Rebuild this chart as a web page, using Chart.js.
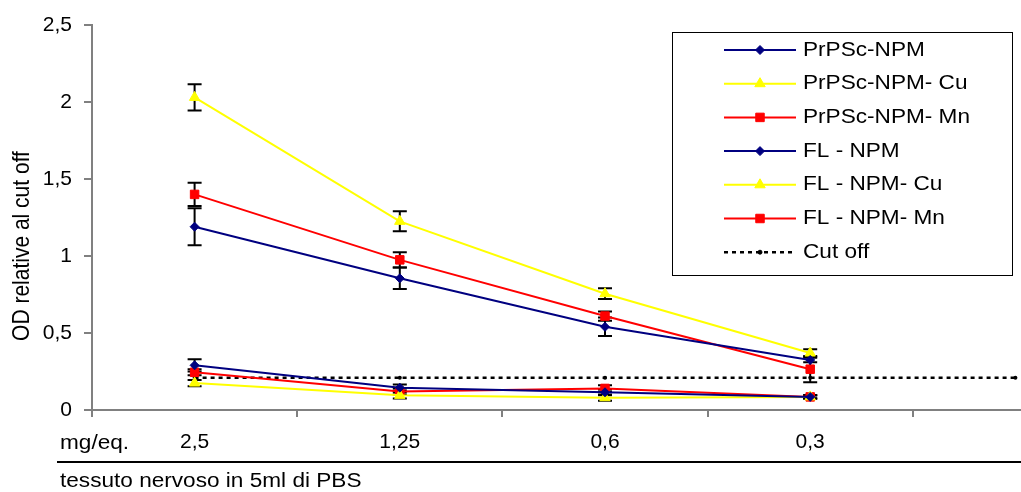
<!DOCTYPE html>
<html>
<head>
<meta charset="utf-8">
<script src="https://cdn.jsdelivr.net/npm/chart.js@4.4.1/dist/chart.umd.min.js"></script>
<style>
  html, body { margin: 0; padding: 0; background: #fff; overflow: hidden; }
  #wrap { width: 1021px; height: 492px; overflow: hidden; }
</style>
</head>
<body>
<div id="wrap"><canvas id="chart" width="1125" height="492"></canvas></div>
<script>
// dosi (mg/eq.) - l'ultima categoria resta vuota, serve solo per la linea di cut off
const doses = ['2,5', '1,25', '0,6', '0,3', ''];
const yTicks = [0, 0.5, 1, 1.5, 2, 2.5];

const prpscNpm = [1.19, 0.855, 0.54, 0.325];
const prpscNpmErr = [0.12, 0.07, 0.06, 0.015];
const prpscNpmCu = [2.03, 1.225, 0.755, 0.37];
const prpscNpmCuErr = [0.085, 0.065, 0.035, 0.025];
const prpscNpmMn = [1.40, 0.975, 0.61, 0.265];
const prpscNpmMnErr = [0.075, 0.05, 0.03, 0.085];

const flNpm = [0.29, 0.145, 0.115, 0.085];
const flNpmErr = [0.04, 0.02, 0.02, 0.01];
const flNpmCu = [0.175, 0.095, 0.08, 0.085];
const flNpmCuErr = [0.02, 0.02, 0.02, 0.01];
const flNpmMn = [0.245, 0.12, 0.14, 0.085];
const flNpmMnErr = [0.02, 0.02, 0.02, 0.01];

const cutOff = [0.21, 0.21, 0.21, 0.21, 0.21];

const NAVY = '#000080';
const YELLOW = '#FFFF00';
const RED = '#FF0000';
const FONT = "'Liberation Sans', Arial, sans-serif";
const STRETCH = 1.13;

function serie(label, data, errors, color, pointStyle, radius) {
    return {
        label: label,
        data: data,
        errors: errors,
        borderColor: color,
        backgroundColor: color,
        pointBackgroundColor: color,
        pointBorderColor: color,
        pointStyle: pointStyle,
        pointRadius: radius,
        pointBorderWidth: 1,
        borderWidth: 2,
        tension: 0
    };
}

// barre d'errore disegnate sotto le linee
const errorBars = {
    id: 'errorBars',
    beforeDatasetsDraw(chart) {
        const { ctx, scales: { x, y } } = chart;
        ctx.save();
        ctx.strokeStyle = '#000';
        ctx.lineWidth = 2;
        chart.data.datasets.forEach(ds => {
            if (!ds.errors) return;
            ds.data.forEach((v, j) => {
                const e = ds.errors[j];
                const px = x.getPixelForValue(j);
                const top = y.getPixelForValue(v + e);
                const bot = y.getPixelForValue(v - e);
                ctx.beginPath();
                ctx.moveTo(px, top); ctx.lineTo(px, bot);
                ctx.moveTo(px - 7, top); ctx.lineTo(px + 7, top);
                ctx.moveTo(px - 7, bot); ctx.lineTo(px + 7, bot);
                ctx.stroke();
            });
        });
        ctx.restore();
    }
};

function stretchedText(ctx, text, x, y) {
    ctx.save();
    ctx.translate(x, y);
    ctx.scale(STRETCH, 1);
    ctx.fillText(text, 0, 0);
    ctx.restore();
}

// titolo asse y, riga sotto l'asse x e legenda in riquadro
const decorations = {
    id: 'decorations',
    afterDraw(chart) {
        const ctx = chart.ctx;
        ctx.save();
        ctx.fillStyle = '#000';
        ctx.textBaseline = 'middle';
        ctx.textAlign = 'left';

        // titolo asse y
        ctx.save();
        ctx.translate(22, 246);
        ctx.rotate(-Math.PI / 2);
        ctx.font = '21px ' + FONT;
        ctx.textAlign = 'center';
        ctx.scale(1, STRETCH);
        ctx.fillText('OD relative al cut off', 0, 0);
        ctx.restore();

        ctx.font = '20px ' + FONT;
        stretchedText(ctx, 'mg/eq.', 60, 443);
        stretchedText(ctx, 'tessuto nervoso in 5ml di PBS', 60, 481);

        ctx.strokeStyle = '#000';
        ctx.lineWidth = 2;
        ctx.beginPath();
        ctx.moveTo(57, 462);
        ctx.lineTo(chart.width, 462);
        ctx.stroke();

        // legenda
        const box = { left: 672, top: 32, right: 1012, bottom: 275 };
        ctx.fillStyle = '#fff';
        ctx.fillRect(box.left, box.top, box.right - box.left, box.bottom - box.top);
        ctx.lineWidth = 1;
        ctx.strokeStyle = '#000';
        ctx.strokeRect(box.left + 0.5, box.top + 0.5, box.right - box.left, box.bottom - box.top);

        chart.data.datasets.forEach((ds, i) => {
            const rowY = 50 + i * 33.7;
            ctx.save();
            ctx.strokeStyle = ds.borderColor;
            ctx.lineWidth = ds.borderWidth;
            ctx.setLineDash(ds.borderDash || []);
            ctx.beginPath();
            ctx.moveTo(724, rowY);
            ctx.lineTo(796, rowY);
            ctx.stroke();
            ctx.setLineDash([]);
            ctx.fillStyle = ds.pointBackgroundColor;
            ctx.strokeStyle = ds.pointBorderColor;
            ctx.lineWidth = 1;
            Chart.helpers.drawPoint(ctx, {
                pointStyle: ds.pointStyle,
                radius: ds.pointRadius,
                rotation: 0,
                borderWidth: 1
            }, 760, rowY);
            ctx.restore();
            ctx.fillStyle = '#000';
            ctx.font = '20px ' + FONT;
            stretchedText(ctx, ds.label, 803, rowY);
        });
        ctx.restore();
    }
};

const cutOffSet = {
    label: 'Cut off',
    data: cutOff,
    borderColor: '#000',
    backgroundColor: '#000',
    pointBackgroundColor: '#000',
    pointBorderColor: '#000',
    pointStyle: 'circle',
    pointRadius: 2,
    pointBorderWidth: 0,
    borderWidth: 2.5,
    borderDash: [4, 4]
};

new Chart(document.getElementById('chart'), {
    type: 'line',
    data: {
        labels: doses,
        datasets: [
            serie('PrPSc-NPM', prpscNpm, prpscNpmErr, NAVY, 'rectRot', 4.5),
            serie('PrPSc-NPM- Cu', prpscNpmCu, prpscNpmCuErr, YELLOW, 'triangle', 6),
            serie('PrPSc-NPM- Mn', prpscNpmMn, prpscNpmMnErr, RED, 'rect', 6),
            serie('FL - NPM', flNpm, flNpmErr, NAVY, 'rectRot', 4.5),
            serie('FL - NPM- Cu', flNpmCu, flNpmCuErr, YELLOW, 'triangle', 6),
            serie('FL - NPM- Mn', flNpmMn, flNpmMnErr, RED, 'rect', 6),
            cutOffSet
        ]
    },
    options: {
        responsive: false,
        animation: false,
        layout: { padding: { top: 25, right: 0, bottom: 0, left: 0 } },
        plugins: {
            legend: { display: false },
            tooltip: { enabled: false }
        },
        scales: {
            x: {
                offset: true,
                grid: {
                    offset: true,
                    drawOnChartArea: false,
                    tickLength: 7,
                    color: '#808080',
                    lineWidth: 2
                },
                border: { color: '#808080', width: 2 },
                ticks: {
                    color: '#000',
                    padding: 13,
                    maxRotation: 0,
                    autoSkip: false,
                    font: { family: FONT, size: 21 }
                },
                afterFit: s => { s.height = 82; }
            },
            y: {
                min: 0,
                max: 2.5,
                afterBuildTicks: s => { s.ticks = yTicks.map(v => ({ value: v })); },
                grid: {
                    drawOnChartArea: false,
                    tickLength: 8,
                    color: '#808080',
                    lineWidth: 2
                },
                border: { color: '#808080', width: 2 },
                ticks: {
                    color: '#000',
                    padding: 12,
                    font: { family: FONT, size: 21 },
                    callback: v => String(v).replace('.', ',')
                },
                afterFit: s => { s.width = 92; }
            }
        }
    },
    plugins: [errorBars, decorations]
});
</script>
</body>
</html>
